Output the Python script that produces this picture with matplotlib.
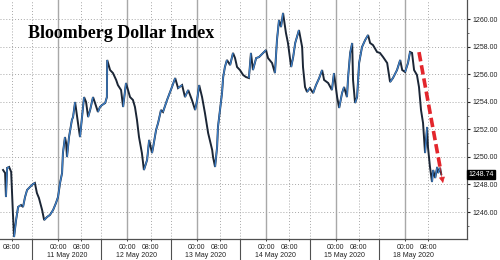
import matplotlib

matplotlib.use("Agg")
import matplotlib.pyplot as plt
import matplotlib.transforms as mtransforms
import numpy as np
from matplotlib.collections import LineCollection

# ---------- data (x = hours since 10 May 00:00, weekend removed) ----------
HOURS = [
    5.0, 5.7, 6.0, 6.4, 7.1, 7.8, 8.4, 8.8, 9.5, 10.2, 11.2, 11.9, 12.6, 13.3,
    14.3, 15.4, 16.0, 16.7, 17.4, 18.5, 19.2, 20.2, 21.2, 22.3, 23.3, 24.0,
    24.7, 25.4, 25.7, 26.4, 26.8, 27.1, 27.8, 28.8, 29.2, 29.9, 30.6, 30.9,
    31.6, 32.3, 33.0, 33.7, 34.4, 35.1, 36.1, 36.8, 37.8, 38.5, 39.2, 40.3,
    40.9, 41.0, 41.3, 42.0, 43.0, 44.1, 44.7, 45.8, 46.5, 47.5, 48.2, 48.9,
    49.9, 50.6, 51.3, 52.0, 53.0, 53.7, 54.8, 55.5, 56.5, 56.9, 57.9, 58.6,
    59.6, 60.3, 61.7, 63.4, 64.5, 65.5, 66.9, 67.9, 69.0, 70.3, 71.4, 72.1,
    72.8, 73.8, 74.8, 75.9, 77.3, 77.6, 78.3, 79.0, 79.3, 80.0, 80.7, 81.1,
    81.7, 82.4, 83.5, 84.5, 85.2, 85.9, 86.9, 88.0, 89.0, 90.0, 90.7, 91.4,
    92.5, 93.5, 94.9, 95.9, 96.6, 98.0, 99.0, 99.7, 100.4, 101.1, 101.8,
    102.8, 103.5, 104.6, 105.3, 106.0, 106.6, 107.3, 108.4, 108.7, 109.4,
    110.1, 111.1, 112.2, 113.2, 114.3, 115.3, 116.0, 117.4, 118.7, 119.4,
    120.5, 121.2, 122.2, 122.9, 123.9, 124.3, 125.0, 125.7, 126.0, 126.7,
    127.4, 128.1, 129.1, 130.2, 131.2, 131.9, 132.9, 134.3, 135.3, 136.4,
    137.8, 138.8, 139.8, 141.2, 142.3, 143.0, 144.0, 145.0, 145.7, 146.4,
    147.1, 148.1, 148.8, 149.5, 150.2, 150.9, 151.6, 151.9, 152.6, 153.3,
    153.7, 154.4, 155.1, 155.4, 156.1, 156.5,
]
VALUES = [
    1249.05, 1248.83, 1247.09, 1249.20, 1249.27, 1248.91, 1245.93, 1244.19,
    1245.42, 1246.37, 1246.51, 1246.37, 1247.09, 1247.60, 1247.82, 1248.04,
    1248.11, 1247.38, 1247.02, 1246.15, 1245.42, 1245.64, 1245.79, 1246.15,
    1246.66, 1247.09, 1248.11, 1248.83, 1250.28, 1251.44, 1251.01, 1249.99,
    1251.44, 1252.68, 1252.89, 1253.98, 1252.89, 1252.46, 1251.44, 1252.89,
    1254.34, 1253.98, 1252.89, 1253.40, 1254.34, 1253.91, 1253.26, 1253.62,
    1253.76, 1253.91, 1254.34, 1257.03, 1256.81, 1256.30, 1256.08, 1255.58,
    1255.21, 1254.85, 1253.62, 1255.36, 1254.85, 1254.34, 1254.13, 1253.62,
    1252.68, 1251.44, 1250.28, 1249.05, 1249.78, 1251.23, 1250.28, 1250.72,
    1251.95, 1252.46, 1253.40, 1253.26, 1254.13, 1255.07, 1255.72, 1254.99,
    1255.21, 1254.34, 1254.85, 1254.13, 1253.40, 1254.13, 1255.21, 1254.34,
    1253.18, 1251.73, 1250.50, 1249.99, 1249.27, 1250.72, 1252.17, 1253.40,
    1254.63, 1255.79, 1256.52, 1257.03, 1256.66, 1257.54, 1257.17, 1256.52,
    1256.30, 1255.94, 1255.79, 1255.72, 1257.54, 1256.30, 1257.17, 1257.24,
    1257.54, 1257.75, 1257.17, 1256.81, 1256.08, 1258.48, 1259.93, 1259.42,
    1260.44, 1258.99, 1258.26, 1256.52, 1257.24, 1258.26, 1258.69, 1259.20,
    1257.97, 1256.52, 1255.07, 1254.71, 1254.99, 1254.63, 1255.21, 1255.72,
    1256.30, 1255.58, 1255.36, 1254.85, 1256.08, 1254.34, 1253.55, 1254.63,
    1255.07, 1254.34, 1255.79, 1257.54, 1258.26, 1255.58, 1253.91, 1254.34,
    1256.81, 1257.97, 1258.48, 1258.84, 1258.26, 1258.11, 1257.61, 1257.54,
    1257.24, 1256.81, 1255.43, 1255.72, 1256.30, 1257.03, 1256.30, 1256.16,
    1256.81, 1257.61, 1257.54, 1256.30, 1255.94, 1255.07, 1253.40, 1252.46,
    1250.28, 1252.17, 1250.72, 1249.27, 1248.18, 1249.05, 1248.47, 1249.27,
    1248.83, 1249.20, 1248.74,
]
LAST_VALUE = 1248.74
DAY_LABELS = ["", "11 May 2020", "12 May 2020", "13 May 2020",
              "14 May 2020", "15 May 2020", "18 May 2020"]
Y_TICKS = [1246, 1248, 1250, 1252, 1254, 1256, 1258, 1260]
ARROW_START = (148.8, 1257.6)
ARROW_END = (157.1, 1248.1)

TITLE = "Bloomberg Dollar Index"
LINE_DARK = "#1b2636"
LINE_BLUE = "#3f80c8"
GRID = "#a8a8a8"
AXIS = "#505050"
RED = "#e3262c"

plt.rcParams.update({"font.family": "Liberation Sans", "font.size": 5})

fig = plt.figure(figsize=(5.0, 2.6), dpi=100)
ax = fig.add_axes([0.0, 0.081, 0.934, 0.919])
ax.set_xlim(3.94, 165.4)
ax.set_ylim(1244.05, 1261.38)

x = np.array(HOURS)
y = np.array(VALUES)

# ---------- grid ----------
n_days = len(DAY_LABELS)
for d in range(n_days):
    if d > 0:
        ax.axvline(d * 24, color=GRID, lw=1.0, zorder=0)
        ax.axvline(d * 24 - 9, color=GRID, lw=0.7, ls=(0, (1, 2)), zorder=0)
    ax.axvline(d * 24 + 8, color=GRID, lw=0.7, ls=(0, (1, 2)), zorder=0)
for t in Y_TICKS:
    ax.axhline(t, color=GRID, lw=0.7, ls=(0, (1, 2)), zorder=0)

# ---------- price line ----------
ax.plot(x, y, color=LINE_DARK, lw=1.4, solid_joinstyle="miter", zorder=2)
segs = np.stack([np.column_stack([x[:-1], y[:-1]]),
                 np.column_stack([x[1:], y[1:]])], axis=1)
up = np.diff(y) > 0
ax.add_collection(LineCollection(segs[up], colors=LINE_BLUE, linewidths=1.0,
                                 zorder=3))

# ---------- red arrow ----------
x0, y0 = ARROW_START
x1, y1 = ARROW_END
frac = 0.88
ax.plot([x0, x0 + (x1 - x0) * frac], [y0, y0 + (y1 - y0) * frac],
        color=RED, lw=2.6, ls=(0, (2.6, 1.1)), solid_capstyle="butt", zorder=4)
ax.annotate("", xy=ARROW_END,
            xytext=(x0 + (x1 - x0) * 0.86, y0 + (y1 - y0) * 0.86),
            arrowprops=dict(arrowstyle="-|>", mutation_scale=9, color=RED,
                            lw=0.5, shrinkA=0, shrinkB=0), zorder=5)

# ---------- axes ----------
for side in ("left", "top"):
    ax.spines[side].set_visible(False)
for side in ("right", "bottom"):
    ax.spines[side].set_color(AXIS)
    ax.spines[side].set_linewidth(0.9)

ax.yaxis.tick_right()
ax.set_yticks(Y_TICKS)
ax.set_yticklabels([f"{t:.2f}" for t in Y_TICKS])
ax.set_yticks([t + 1 for t in Y_TICKS[:-1]] + [1245], minor=True)
ax.tick_params(axis="y", which="major", length=2.5, width=0.8, pad=1.2,
               colors="#222222", labelsize=5)
ax.tick_params(axis="y", which="minor", length=1.5, width=0.6, colors=AXIS)

xt, xl = [], []
for d in range(n_days):
    if d > 0:
        xt.append(d * 24)
        xl.append("00:00")
    xt.append(d * 24 + 8)
    xl.append("08:00")
ax.set_xticks(xt)
ax.set_xticklabels(xl)
ax.tick_params(axis="x", length=1.5, width=0.6, pad=2.5, colors="#222222",
               labelsize=5)

# date row and group separators under the axis
trans = mtransforms.blended_transform_factory(ax.transData, ax.transAxes)
for d in range(1, n_days):
    ax.plot([d * 24 - 9, d * 24 - 9], [0, -0.09], transform=trans,
            color=AXIS, lw=0.8, clip_on=False)
    ax.annotate(DAY_LABELS[d], xy=(d * 24 + 3, 0), xycoords=trans,
                xytext=(0, -17), textcoords="offset pixels",
                ha="center", va="center", fontsize=5, color="#222222")

# last value tag
ax.text(1.003, LAST_VALUE, f"{LAST_VALUE:.2f}",
        transform=mtransforms.blended_transform_factory(ax.transAxes,
                                                        ax.transData),
        ha="left", va="center", fontsize=5, color="white", zorder=6,
        bbox=dict(boxstyle="square,pad=0.15", fc="black", ec="black"),
        clip_on=False)

fig.text(28 / 500, 1 - 33 / 260, TITLE, family="Liberation Serif",
         weight="bold", fontsize=13, va="center", ha="left")

fig.savefig("out.png", dpi=100)
